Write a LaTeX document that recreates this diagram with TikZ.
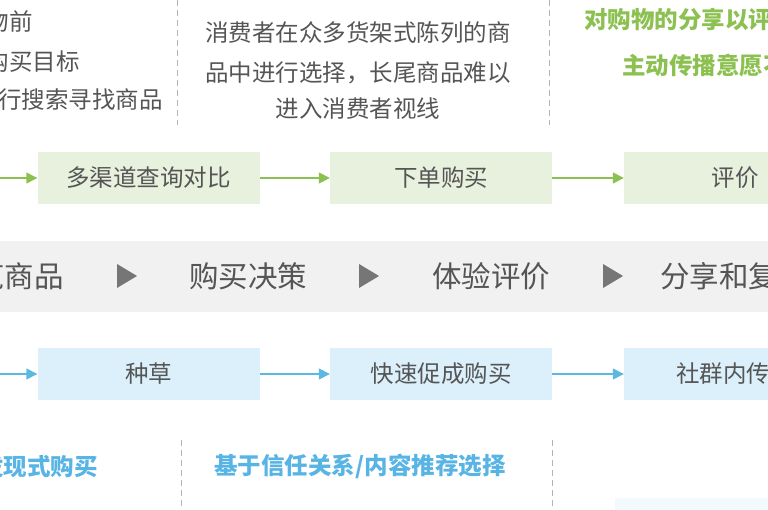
\documentclass[tikz,border=0pt]{standalone}
\usepackage{fontspec}
\newfontfamily\cjk{Noto Sans CJK SC}
\usetikzlibrary{arrows.meta}
\definecolor{txtgray}{HTML}{555555}
\definecolor{boxgreen}{HTML}{E8F0DE}
\definecolor{arrgreen}{HTML}{8CC152}
\definecolor{txtgreen}{HTML}{8CC152}
\definecolor{boxblue}{HTML}{DBF0FA}
\definecolor{arrblue}{HTML}{5BB8E0}
\definecolor{txtblue}{HTML}{58B4E4}
\definecolor{bandgray}{HTML}{F1F1F1}
\definecolor{triggray}{HTML}{767676}
\definecolor{dashgray}{HTML}{B4B4B4}
\begin{document}
\begin{tikzpicture}[x=1pt,y=-1pt,
  note/.style={font=\cjk\fontsize{23.5}{23.5}\selectfont,text=txtgray,inner sep=0pt},
  stage/.style={font=\cjk\fontsize{29.5}{29.5}\selectfont,text=txtgray,inner sep=0pt},
  gnote/.style={font=\cjk\bfseries\fontsize{23.5}{23.5}\selectfont,text=txtgreen,inner sep=0pt,anchor=west},
  bnote/.style={font=\cjk\bfseries\fontsize{23.5}{23.5}\selectfont,text=txtblue,inner sep=0pt},
  gbox/.style={fill=boxgreen,minimum width=222pt,minimum height=52pt,inner sep=0pt,font=\cjk\fontsize{23.5}{23.5}\selectfont,text=txtgray},
  bbox/.style={gbox,fill=boxblue},
  garrow/.style={draw=arrgreen,line width=1.5pt,-{Triangle[length=11pt,width=11pt]}},
  barrow/.style={garrow,draw=arrblue},
  sep/.style={draw=dashgray,line width=1pt,dash pattern=on 6pt off 4pt}]
\useasboundingbox (0,0) rectangle (768,510);
\clip (0,0) rectangle (768,510);
% top notes
\node[note,anchor=east] at (33,22) (n1) {购物前};
\node[note,anchor=east] at (80,62) (n2) {明确购买目标};
\node[note,anchor=east] at (163,100) (n3) {进行搜索寻找商品};
\node[note] at (358,33) (m1) {消费者在众多货架式陈列的商};
\node[note] at (358,73) (m2) {品中进行选择，长尾商品难以};
\node[note] at (358,109) (m3) {进入消费者视线};
\node[gnote] at (584,20) (r1) {对购物的分享以评价为主};
\node[gnote] at (622,66) (r2) {主动传播意愿不强};
\draw[sep] (177,0) -- (177,125);
\draw[sep] (549,0) -- (549,125);
% green row
\coordinate (g0) at (0,178);
\node[gbox] at (148.5,178) (g1) {多渠道查询对比};
\node[gbox] at (441,178) (g2) {下单购买};
\node[gbox] at (735,178) (g3) {评价};
\draw[garrow] (g0) -- (g1);
\draw[garrow] (g1) -- (g2);
\draw[garrow] (g2) -- (g3);
% stages
\fill[bandgray] (0,241) rectangle (768,312);
\node[stage] at (5,276) (s1) {浏览商品};
\node[stage] at (248,276) (s2) {购买决策};
\node[stage] at (491,276) (s3) {体验评价};
\node[stage] at (734,276) (s4) {分享和复购};
\foreach \x in {117,359,603}
  \fill[triggray] (\x,264) -- (\x+20,276) -- (\x,288) -- cycle;
% blue row
\coordinate (b0) at (0,374);
\node[bbox] at (148.5,374) (b1) {种草};
\node[bbox] at (441,374) (b2) {快速促成购买};
\node[bbox] at (735,374) (b3) {社群内传播};
\draw[barrow] (b0) -- (b1);
\draw[barrow] (b1) -- (b2);
\draw[barrow] (b2) -- (b3);
% bottom notes
\node[bnote,anchor=east] at (98,466) (l1) {发现式购买};
\node[bnote] at (360,466) (l2) {基于信任关系/内容推荐选择};
\draw[sep] (181,440) -- (181,510);
\draw[sep] (552,440) -- (552,510);
\fill[boxblue!35] (615,498) rectangle (768,510);
\end{tikzpicture}
\end{document}
